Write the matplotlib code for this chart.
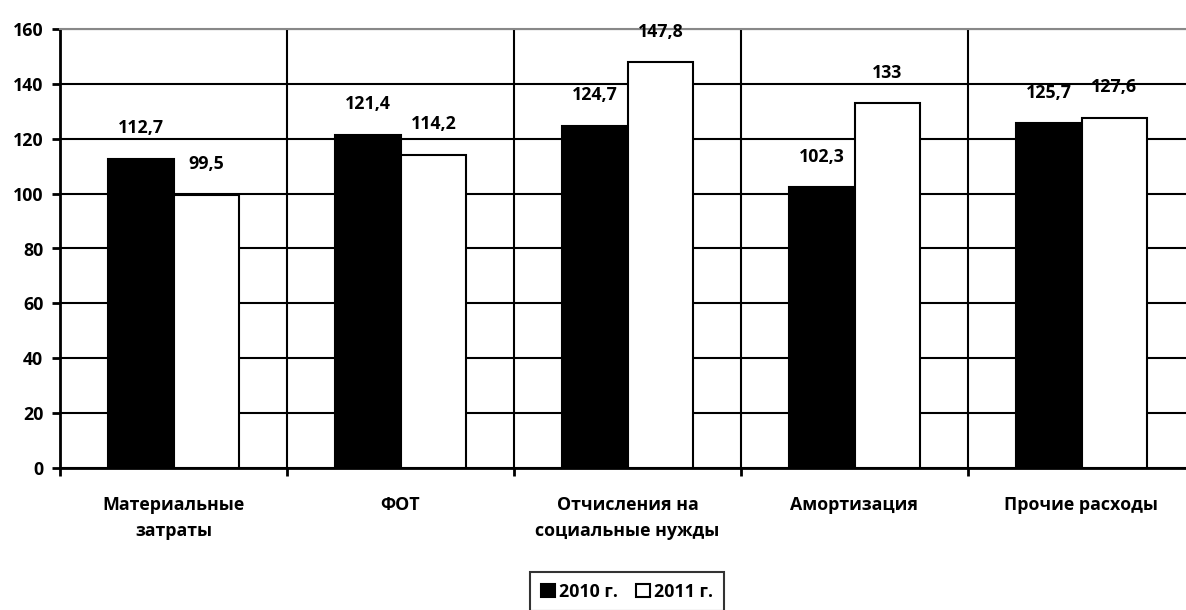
import matplotlib.pyplot as plt
import numpy as np

categories = ['Материальные\nзатраты', 'ФОТ', 'Отчисления на\nсоциальные нужды',
              'Амортизация', 'Прочие расходы']
values_2010 = [112.7, 121.4, 124.7, 102.3, 125.7]
values_2011 = [99.5, 114.2, 147.8, 133, 127.6]
labels_2010 = ['112,7', '121,4', '124,7', '102,3', '125,7']
labels_2011 = ['99,5', '114,2', '147,8', '133', '127,6']

plt.rcParams['font.family'] = ['Open Sans', 'DejaVu Sans']
plt.rcParams['font.weight'] = 'bold'
FS = 12.8

fig = plt.figure(figsize=(11.86, 6.1), dpi=100)
ax = fig.add_axes([60 / 1186, 1 - 468 / 610, 1135 / 1186, 439 / 610])

x = np.arange(len(categories))
w = 0.29
b1 = ax.bar(x - w / 2, values_2010, w, color='black', edgecolor='black', linewidth=1.5,
            label='2010 г.', zorder=3)
b2 = ax.bar(x + w / 2, values_2011, w, color='white', edgecolor='black', linewidth=1.5,
            label='2011 г.', zorder=3)

for rect, lab in zip(b1, labels_2010):
    ax.annotate(lab, (rect.get_x() + rect.get_width() / 2, rect.get_height()),
                xytext=(0, 22), textcoords='offset points', ha='center', va='center',
                fontsize=FS, fontweight='bold')
for rect, lab in zip(b2, labels_2011):
    ax.annotate(lab, (rect.get_x() + rect.get_width() / 2, rect.get_height()),
                xytext=(0, 22), textcoords='offset points', ha='center', va='center',
                fontsize=FS, fontweight='bold')

ax.set_xlim(-0.5, len(categories) - 0.5)
ax.set_ylim(0, 160)
ax.set_yticks(range(0, 161, 20))
ax.set_xticks(x)
ax.set_xticklabels(categories, fontsize=FS, fontweight='bold', linespacing=1.6)
ax.set_xticks(np.arange(-0.5, len(categories), 1), minor=True)
ax.tick_params(axis='x', which='major', length=0, pad=20)
ax.tick_params(axis='x', which='minor', length=6, width=2)
ax.tick_params(axis='y', length=6, width=2, labelsize=FS, pad=6)
for t in ax.get_yticklabels():
    t.set_fontweight('bold')

ax.grid(axis='y', color='black', linewidth=1.5, zorder=0)
ax.grid(axis='x', which='minor', color='black', linewidth=1.5, zorder=0)
ax.set_axisbelow(True)

ax.spines['right'].set_visible(False)
ax.spines['top'].set_color('#888888')
ax.spines['top'].set_linewidth(1.5)
ax.spines['left'].set_linewidth(2)
ax.spines['bottom'].set_linewidth(2)

leg = fig.legend(handles=[b1, b2], loc='upper center', bbox_to_anchor=(627 / 1186, 1 - 572 / 610),
                 ncol=2, fontsize=FS, frameon=True, fancybox=False, edgecolor='black',
                 handlelength=0.8, handleheight=0.8, handletextpad=0.25, columnspacing=1.0,
                 borderpad=0.6, borderaxespad=0)
leg.get_frame().set_linewidth(1.5)
for t in leg.get_texts():
    t.set_fontweight('bold')

fig.savefig('out.png', dpi=100)
